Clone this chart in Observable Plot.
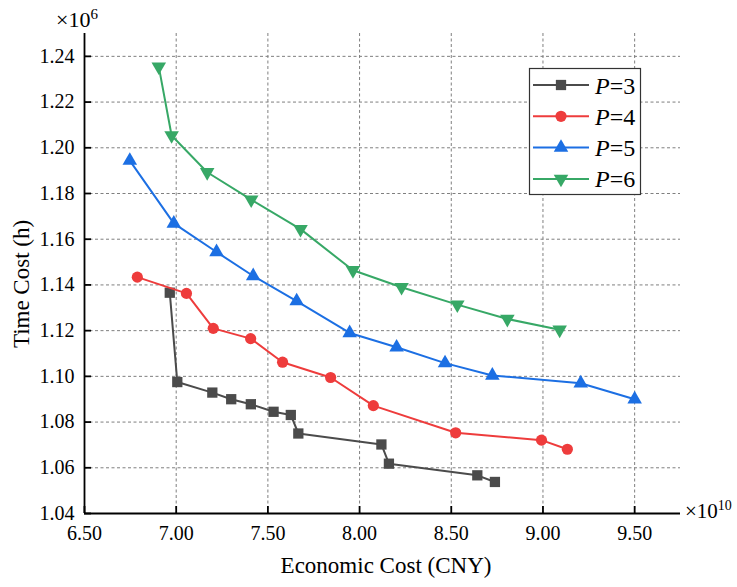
<!DOCTYPE html>
<html><head><meta charset="utf-8">
<script src="https://cdn.jsdelivr.net/npm/d3@7"></script>
<script src="https://cdn.jsdelivr.net/npm/@observablehq/plot@0.6"></script>
<style>body{margin:0;background:#fff;} #chart{position:relative;width:737px;height:587px;}</style>
</head><body><div id="chart"></div>
<script>
// Data (Economic cost in units of 1e10 CNY, time cost in units of 1e6 h)
const pValues = [3, 4, 5, 6];
const econ3 = [6.965, 7.006, 7.197, 7.300, 7.407, 7.531, 7.625, 7.666, 8.119, 8.160, 8.642, 8.738];
const time3 = [1.1366, 1.0975, 1.0929, 1.0900, 1.0878, 1.0845, 1.0831, 1.0750, 1.0702, 1.0618, 1.0567, 1.0538];
const econ4 = [6.788, 7.056, 7.202, 7.406, 7.580, 7.842, 8.075, 8.524, 8.992, 9.133];
const time4 = [1.1434, 1.1363, 1.1210, 1.1165, 1.1062, 1.0995, 1.0872, 1.0753, 1.0721, 1.0681];
const econ5 = [6.747, 6.987, 7.220, 7.420, 7.657, 7.946, 8.202, 8.466, 8.724, 9.206, 9.500];
const time5 = [1.1944, 1.1669, 1.1544, 1.1439, 1.1329, 1.1190, 1.1127, 1.1058, 1.1004, 1.0970, 1.0900];
const econ6 = [6.905, 6.975, 7.169, 7.409, 7.678, 7.964, 8.229, 8.533, 8.806, 9.091];
const time6 = [1.2355, 1.2054, 1.1893, 1.1773, 1.1644, 1.1464, 1.1390, 1.1314, 1.1251, 1.1204];
const xTicks = [6.5, 7.0, 7.5, 8.0, 8.5, 9.0, 9.5];
const yTicks = [1.04, 1.06, 1.08, 1.10, 1.12, 1.14, 1.16, 1.18, 1.20, 1.22, 1.24];
const xLabel = "Economic Cost (CNY)";
const yLabel = "Time Cost (h)";
const xExp = "10";
const yExp = "6";

const colors = ["#4b4b4b", "#ee3c3c", "#1c6fe3", "#37a866"];
const symbols = ["square", "circle", "triangle", "triangle"];
const rotations = [0, 0, 0, 180];
const radii = [5.8, 5.6, 5.4, 5.4];

const econs = [econ3, econ4, econ5, econ6];
const times = [time3, time4, time5, time6];
const series = pValues.map((p, i) => econs[i].map((e, j) => ({p, econ: e, time: times[i][j]})));

const FONT = "'Liberation Serif', 'Times New Roman', serif";
const gridStyle = {stroke: "#7f7f7f", strokeOpacity: 1, strokeWidth: 1, strokeDasharray: "3,2.5"};

const marks = [
  Plot.gridX(xTicks.slice(1), gridStyle),
  Plot.gridY(yTicks.slice(1), gridStyle),
];
series.forEach((s, i) => {
  marks.push(Plot.line(s, {x: "econ", y: "time", stroke: colors[i], strokeWidth: 2}));
  marks.push(Plot.dot(s, {x: "econ", y: "time", fill: colors[i], stroke: "none", symbol: symbols[i], r: radii[i], rotate: rotations[i]}));
});
marks.push(
  Plot.ruleX([6.5], {stroke: "#000", strokeWidth: 1.8}),
  Plot.ruleY([1.04], {stroke: "#000", strokeWidth: 1.8}),
  Plot.axisX({ticks: xTicks, tickFormat: d3.format(".2f"), tickSize: -7, tickPadding: 19, label: null, fontSize: 20, fontFamily: FONT, strokeWidth: 1.8, stroke: "#000", fill: "#000"}),
  Plot.axisY({ticks: yTicks, tickFormat: d3.format(".2f"), tickSize: -7, tickPadding: 17, label: null, fontSize: 20, fontFamily: FONT, strokeWidth: 1.8, stroke: "#000", fill: "#000"})
);

const chart = Plot.plot({
  width: 737, height: 587,
  marginLeft: 84, marginRight: 57, marginTop: 33, marginBottom: 74,
  style: {fontFamily: FONT, fontSize: "20px", background: "#fff", color: "#000"},
  x: {domain: [6.5, 9.75]},
  y: {domain: [1.04, 1.25]},
  marks
});
document.getElementById("chart").appendChild(chart);

const svg = d3.select(chart);
function addText(x, y, size, anchor) {
  return svg.append("text").attr("x", x).attr("y", y).attr("text-anchor", anchor)
    .style("font-family", FONT).style("font-size", size + "px").attr("fill", "#000");
}
// axis labels
addText(386, 573, 23, "middle").text(xLabel);
svg.append("text").attr("transform", "translate(29,284) rotate(-90)").attr("text-anchor", "middle")
  .style("font-family", FONT).style("font-size", "23px").attr("fill", "#000").text(yLabel);
// exponents
function exponent(x, y, exp, main, sup, dy) {
  const t = addText(x, y, main, "start");
  t.append("tspan").text("×10");
  t.append("tspan").attr("dy", dy).style("font-size", sup + "px").text(exp);
}
exponent(56, 27, yExp, 22, 15, -8);
exponent(685, 518, xExp, 21, 14, -8);

// legend
const lg = svg.append("g");
lg.append("rect").attr("x", 529.5).attr("y", 68.5).attr("width", 111).attr("height", 126)
  .attr("fill", "#fff").attr("stroke", "#333").attr("stroke-width", 1.2);
const d3sym = {square: d3.symbolSquare, circle: d3.symbolCircle, triangle: d3.symbolTriangle};
pValues.forEach((p, i) => {
  const yy = 85 + i * 31.3;
  lg.append("line").attr("x1", 533).attr("x2", 589).attr("y1", yy).attr("y2", yy)
    .attr("stroke", colors[i]).attr("stroke-width", 2);
  lg.append("path").attr("d", d3.symbol(d3sym[symbols[i]], Math.PI * radii[i] * radii[i])())
    .attr("transform", `translate(561,${yy}) rotate(${rotations[i]})`).attr("fill", colors[i]);
  const t = lg.append("text").attr("x", 595).attr("y", yy + 8.5).attr("text-anchor", "start")
    .style("font-family", FONT).style("font-size", "24px").attr("fill", "#000");
  t.append("tspan").style("font-style", "italic").text("P");
  t.append("tspan").text("=" + p);
});
svg.selectAll("text").style("font-family", FONT);
</script>
</body></html>
